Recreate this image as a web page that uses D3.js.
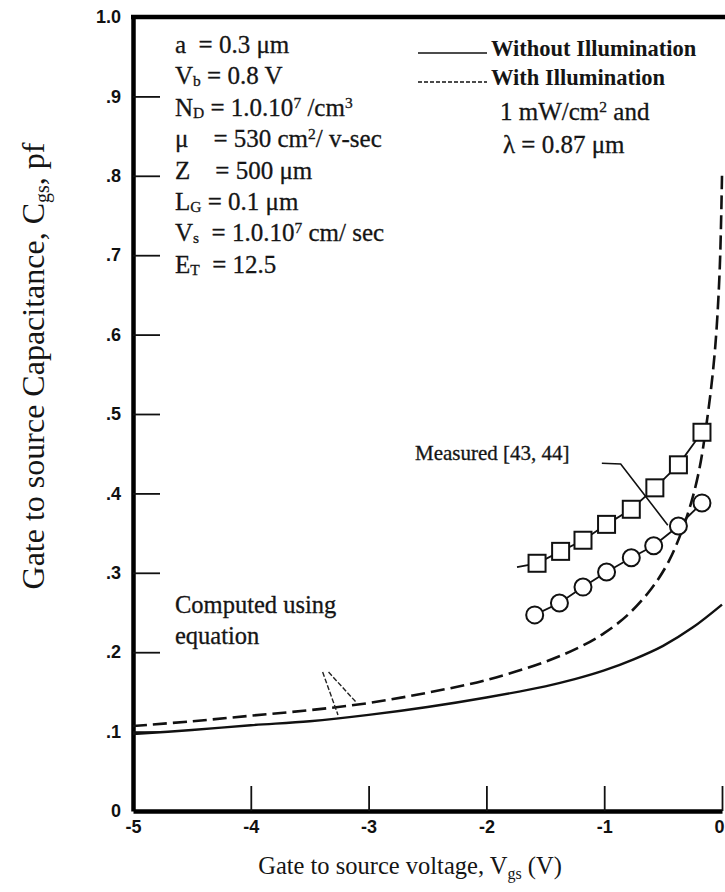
<!DOCTYPE html>
<html>
<head>
<meta charset="utf-8">
<script src="https://cdn.jsdelivr.net/npm/d3@7"></script>
<style>
  body { margin: 0; background: #fff; }
  svg { display: block; }
  .serif { font-family: "Liberation Serif", "Times New Roman", serif; fill: #151515; stroke: #151515; stroke-width: 0.3px; }
  .tick text { font-family: "Liberation Sans", Arial, sans-serif; font-weight: bold; font-size: 18px; fill: #111; }
</style>
</head>
<body>
<svg id="chart" width="725" height="892"></svg>
<script>
// Axis ticks
const xTicks = [-5, -4, -3, -2, -1, 0];
const yTicks = [0, 0.1, 0.2, 0.3, 0.4, 0.5, 0.6, 0.7, 0.8, 0.9, 1.0];
const yTickLabels = ["0", ".1", ".2", ".3", ".4", ".5", ".6", ".7", ".8", ".9", "1.0"];

// Computed Cgs without illumination (solid)
const vgsDark = [-5, -4.5, -4, -3.5, -3, -2.5, -2, -1.5, -1.25, -1, -0.75, -0.5, -0.25, 0];
const cgsDark = [0.097, 0.102, 0.108, 0.113, 0.121, 0.131, 0.143, 0.157, 0.166, 0.177, 0.191, 0.208, 0.231, 0.260];

// Computed Cgs with illumination (dashed)
const vgsLit = [-5, -4.5, -4, -3.5, -3, -2.5, -2, -1.5, -1.2, -1, -0.8, -0.6, -0.45, -0.3, -0.2, -0.12, -0.06, -0.02, 0];
const cgsLit = [0.107, 0.113, 0.120, 0.127, 0.136, 0.149, 0.165, 0.188, 0.207, 0.224, 0.247, 0.280, 0.315, 0.370, 0.425, 0.500, 0.580, 0.680, 0.800];

// Measured points, with illumination (squares) and without (circles)
const vgsSquares = [-1.57, -1.37, -1.18, -0.98, -0.77, -0.57, -0.37, -0.17];
const cgsSquares = [0.312, 0.327, 0.341, 0.361, 0.380, 0.407, 0.436, 0.477];
const vgsCircles = [-1.59, -1.38, -1.18, -0.98, -0.77, -0.58, -0.37, -0.17];
const cgsCircles = [0.247, 0.262, 0.282, 0.301, 0.319, 0.334, 0.359, 0.388];

// Device parameters listed in the upper-left box
const paramNames = [["a", ""], ["V", "b"], ["N", "D"], ["\u03bc", ""], ["Z", ""], ["L", "G"], ["V", "s"], ["E", "T"]];
const paramGaps = ["  ", " ", " ", "    ", "    ", " ", "  ", "  "];
const paramValues = [
  [["= 0.3 \u03bcm", ""]],
  [["= 0.8 V", ""]],
  [["= 1.0.10", ""], ["7", "sup"], [" /cm", ""], ["3", "sup"]],
  [["= 530 cm", ""], ["2", "sup"], ["/ v-sec", ""]],
  [["= 500 \u03bcm", ""]],
  [["= 0.1 \u03bcm", ""]],
  [["= 1.0.10", ""], ["7", "sup"], [" cm/ sec", ""]],
  [["= 12.5", ""]]
];

// Legend entries
const legendLabels = ["Without Illumination", "With Illumination"];
const legendNote = [[["1 mW/cm", ""], ["2", "sup"], [" and", ""]], [["\u03bb = 0.87 \u03bcm", ""]]];

// Annotation leaders, in data units
const measuredLeader = [[-1.02, 0.438], [-0.86, 0.437], [-0.46, 0.360]];
const squareTail = [-1.74, 0.307];
const computedLeaders = [
  [[-3.39, 0.175], [-3.26, 0.121]],
  [[-3.34, 0.175], [-3.10, 0.136]]
];

const W = 725, H = 892;
const margin = { top: 17, right: 3, bottom: 81, left: 133 };

const svg = d3.select("#chart");

const x = d3.scaleLinear().domain([-5, 0]).range([margin.left, W - margin.right]);
const y = d3.scaleLinear().domain([0, 1]).range([H - margin.bottom, margin.top]);

// Y axis with inward ticks
svg.append("g")
  .attr("transform", `translate(${x(-5)},0)`)
  .call(d3.axisLeft(y).tickValues(yTicks).tickSize(-27).tickSizeOuter(0).tickPadding(12)
    .tickFormat((d, i) => yTickLabels[i]))
  .call(g => g.select(".domain").attr("stroke", "#000").attr("stroke-width", 4.5))
  .call(g => g.selectAll(".tick line").attr("stroke", "#111").attr("stroke-width", 1.8))
  .call(g => g.selectAll(".tick").filter(d => d === 0 || d === 1).select("line").remove());

// X axis with inward ticks
svg.append("g")
  .attr("transform", `translate(0,${y(0)})`)
  .call(d3.axisBottom(x).tickValues(xTicks).tickSize(-25).tickSizeOuter(0).tickPadding(9)
    .tickFormat(d => String(d)))
  .call(g => g.select(".domain").attr("stroke", "#000").attr("stroke-width", 4.5))
  .call(g => g.selectAll(".tick line").attr("stroke", "#111").attr("stroke-width", 1.8))
  .call(g => g.selectAll(".tick").filter(d => d === -5).select("line").remove())
  .call(g => g.selectAll(".tick").filter(d => d === 0).select("text").attr("text-anchor", "end").attr("dx", 2));

// Top frame line
svg.append("line")
  .attr("x1", x(-5) - 2).attr("x2", W)
  .attr("y1", y(1)).attr("y2", y(1))
  .attr("stroke", "#000").attr("stroke-width", 4.5);

const line = d3.line().x(d => x(d[0])).y(d => y(d[1]));
const curve = d3.line().x(d => x(d[0])).y(d => y(d[1])).curve(d3.curveCatmullRom.alpha(0.5));

// Computed curves
svg.append("path")
  .datum(vgsDark.map((v, i) => [v, cgsDark[i]]))
  .attr("d", curve).attr("fill", "none").attr("stroke", "#111").attr("stroke-width", 2.4);

svg.append("path")
  .datum(vgsLit.map((v, i) => [v, cgsLit[i]]))
  .attr("d", curve).attr("fill", "none").attr("stroke", "#111").attr("stroke-width", 2.6)
  .attr("stroke-dasharray", "14,6");

// Leaders for "Computed using equation"
computedLeaders.forEach(seg => {
  svg.append("path").datum(seg).attr("d", line)
    .attr("fill", "none").attr("stroke", "#222").attr("stroke-width", 1.4)
    .attr("stroke-dasharray", "5,2");
});

// Measured series: connecting segments, then markers
const sqPts = vgsSquares.map((v, i) => [v, cgsSquares[i]]);
svg.append("path").datum([squareTail, ...sqPts]).attr("d", line)
  .attr("fill", "none").attr("stroke", "#111").attr("stroke-width", 1.8);
const cPts = vgsCircles.map((v, i) => [v, cgsCircles[i]]);
svg.append("path").datum(cPts).attr("d", line)
  .attr("fill", "none").attr("stroke", "#111").attr("stroke-width", 1.8);

// Leader for "Measured [43, 44]"
svg.append("path").datum(measuredLeader).attr("d", line)
  .attr("fill", "none").attr("stroke", "#111").attr("stroke-width", 1.6);

const sq = 17;
svg.append("g").selectAll("rect").data(sqPts).join("rect")
  .attr("x", d => x(d[0]) - sq / 2).attr("y", d => y(d[1]) - sq / 2)
  .attr("width", sq).attr("height", sq)
  .attr("fill", "#fff").attr("stroke", "#111").attr("stroke-width", 2);

svg.append("g").selectAll("circle").data(cPts).join("circle")
  .attr("cx", d => x(d[0])).attr("cy", d => y(d[1])).attr("r", 8.5)
  .attr("fill", "#fff").attr("stroke", "#111").attr("stroke-width", 2);

// Text runs with superscripts
function runs(textSel, parts, size) {
  parts.forEach(([t, kind]) => {
    const ts = textSel.append("tspan").text(t);
    if (kind === "sup") ts.attr("font-size", size * 0.62).attr("baseline-shift", size * 0.33);
  });
}

// Parameter block
const pSize = 25, pLead = 31.4;
paramNames.forEach(([nm, sub], i) => {
  const t = svg.append("text").attr("class", "serif")
    .attr("x", 175).attr("y", 53 + i * pLead)
    .attr("font-size", pSize).style("white-space", "pre");
  t.append("tspan").text(nm);
  if (sub) t.append("tspan").text(sub).attr("font-size", pSize * 0.62).attr("baseline-shift", -2);
  t.append("tspan").text(paramGaps[i]);
  runs(t, paramValues[i], pSize);
});

// Legend
const lSize = 22.5;
[0, 1].forEach(i => {
  const ly = 53 + i * 29;
  svg.append("line").attr("x1", 418).attr("x2", 487).attr("y1", ly).attr("y2", ly)
    .attr("stroke", "#111").attr("stroke-width", 1.6)
    .attr("stroke-dasharray", i === 1 ? "4,2" : null);
  svg.append("text").attr("class", "serif").attr("x", 491).attr("y", ly + 3)
    .attr("font-size", lSize).attr("font-weight", "bold").style("stroke-width", "0px").text(legendLabels[i]);
});
legendNote.forEach((parts, i) => {
  const t = svg.append("text").attr("class", "serif")
    .attr("x", i === 0 ? 500 : 503).attr("y", 120 + i * 33).attr("font-size", 25);
  runs(t, parts, 25);
});

// Annotations
svg.append("text").attr("class", "serif").attr("x", 415).attr("y", 460)
  .attr("font-size", 21).text("Measured [43, 44]");
svg.append("text").attr("class", "serif").attr("x", 175).attr("y", 613)
  .attr("font-size", 24.5).text("Computed using");
svg.append("text").attr("class", "serif").attr("x", 175).attr("y", 644)
  .attr("font-size", 24.5).text("equation");

// Axis titles
const xt = svg.append("text").attr("class", "serif").style("stroke-width", "0px")
  .attr("x", 410).attr("y", 874).attr("text-anchor", "middle").attr("font-size", 24.5);
xt.append("tspan").text("Gate to source voltage, V");
xt.append("tspan").text("gs").attr("font-size", 16).attr("baseline-shift", -5);
xt.append("tspan").text(" (V)");

const yt = svg.append("text").attr("class", "serif").style("stroke-width", "0px")
  .attr("transform", "translate(44,366) rotate(-90)")
  .attr("text-anchor", "middle").attr("font-size", 32);
yt.append("tspan").text("Gate to source Capacitance, C");
yt.append("tspan").text("gs").attr("font-size", 20).attr("baseline-shift", -5);
yt.append("tspan").text(", pf");
</script>
</body>
</html>
